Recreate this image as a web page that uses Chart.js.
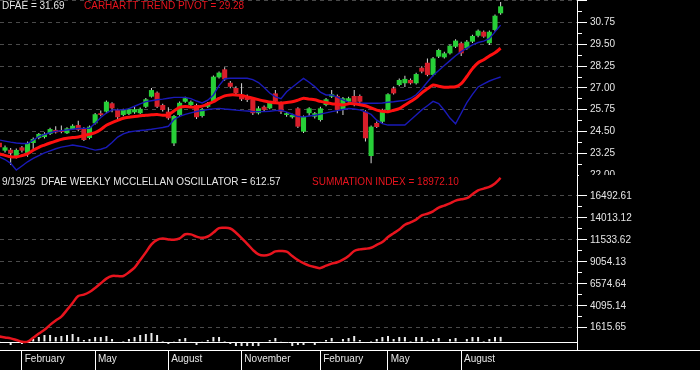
<!DOCTYPE html>
<html>
<head>
<meta charset="utf-8">
<script src="https://cdn.jsdelivr.net/npm/chart.js@4.4.1/dist/chart.umd.min.js"></script>
<style>
  html, body { margin: 0; padding: 0; background: #000; }
  #wrap { position: relative; width: 700px; height: 370px; overflow: hidden; background: #000; }
  canvas { position: absolute; left: 0; top: 0; }
  .hdr { position: absolute; font: 10px "Liberation Sans", Arial, sans-serif; line-height: 12px; white-space: pre; }
</style>
</head>
<body>
<div id="wrap">
  <canvas id="chart" width="700" height="370"></canvas>
  <div class="hdr" style="left:2px;top:0px;color:#e6e6e6">DFAE = 31.69</div>
  <div class="hdr" style="left:84px;top:0px;color:#e8141e">CARHARTT TREND PIVOT = 29.28</div>
  <div class="hdr" style="left:2px;top:176px;color:#e6e6e6">9/19/25  DFAE WEEKLY MCCLELLAN OSCILLATOR = 612.57</div>
  <div class="hdr" style="left:312px;top:176px;color:#e8141e">SUMMATION INDEX = 18972.10</div>
  <!-- bottom half of the clipped 22.00 label is hidden behind the lower panel header -->
  <div style="position:absolute;left:579px;top:175px;width:121px;height:11px;background:#000"></div>
  <div style="position:absolute;left:577px;top:350px;width:123px;height:1px;background:#fff"></div>
</div>
<script>
// weekly bars, friday dates
const weeks = [
  '2024-01-05','2024-01-12','2024-01-19','2024-01-26','2024-02-02','2024-02-09','2024-02-16','2024-02-23',
  '2024-03-01','2024-03-08','2024-03-15','2024-03-22','2024-03-29','2024-04-05','2024-04-12','2024-04-19',
  '2024-04-26','2024-05-03','2024-05-10','2024-05-17','2024-05-24','2024-05-31','2024-06-07','2024-06-14',
  '2024-06-21','2024-06-28','2024-07-05','2024-07-12','2024-07-19','2024-07-26','2024-08-02','2024-08-09',
  '2024-08-16','2024-08-23','2024-08-30','2024-09-06','2024-09-13','2024-09-20','2024-09-27','2024-10-04',
  '2024-10-11','2024-10-18','2024-10-25','2024-11-01','2024-11-08','2024-11-15','2024-11-22','2024-11-29',
  '2024-12-06','2024-12-13','2024-12-20','2024-12-27','2025-01-03','2025-01-10','2025-01-17','2025-01-24',
  '2025-01-31','2025-02-07','2025-02-14','2025-02-21','2025-02-28','2025-03-07','2025-03-14','2025-03-21',
  '2025-03-28','2025-04-04','2025-04-11','2025-04-18','2025-04-25','2025-05-02','2025-05-09','2025-05-16',
  '2025-05-23','2025-05-30','2025-06-06','2025-06-13','2025-06-20','2025-06-27','2025-07-04','2025-07-11',
  '2025-07-18','2025-07-25','2025-08-01','2025-08-08','2025-08-15','2025-08-22','2025-08-29','2025-09-05',
  '2025-09-12','2025-09-19'
];

const openP = [
  23.86,23.40,23.45,23.05,23.59,23.27,23.84,24.13,24.18,24.36,24.59,24.55,24.40,24.64,24.87,24.68,
  24.13,24.97,25.55,25.64,26.12,25.74,25.45,25.51,25.60,25.55,25.92,26.50,26.73,26.02,25.64,23.82,
  25.45,26.21,26.02,26.02,25.39,25.92,26.21,27.61,28.07,27.30,27.00,26.60,26.54,26.40,25.55,25.92,
  25.83,26.69,26.15,25.45,25.32,25.83,24.49,25.55,25.35,25.16,26.02,26.50,26.54,25.78,26.21,26.54,
  26.54,25.64,23.09,24.99,25.06,25.74,26.98,27.17,27.27,27.46,27.27,28.16,28.45,27.75,28.80,28.76,
  28.99,29.37,29.57,29.28,29.66,30.00,30.23,29.57,30.33,31.29
];
const highP = [
  23.98,23.70,23.55,23.52,23.66,23.92,24.15,24.42,24.45,24.72,24.80,24.85,24.75,24.92,25.12,24.75,
  24.85,25.56,25.70,26.28,26.18,25.80,25.80,25.85,25.92,25.88,26.42,27.00,26.80,26.10,25.90,25.45,
  26.22,26.50,26.28,26.10,25.85,26.20,27.72,27.95,28.19,27.40,27.10,27.27,26.62,26.48,25.95,26.00,
  26.25,26.88,26.22,25.62,25.52,25.90,25.42,25.90,25.62,25.92,26.42,26.88,26.62,26.48,26.50,26.88,
  26.62,25.72,24.85,25.08,25.80,26.70,27.08,27.55,27.70,27.55,27.88,28.25,28.70,28.78,29.25,29.08,
  29.50,29.80,29.65,29.75,30.05,30.36,30.30,30.30,31.22,31.94
];
const lowP = [
  23.50,23.30,22.58,22.95,23.30,23.05,23.45,24.05,24.10,24.30,24.38,24.40,24.35,24.58,24.52,23.95,
  24.05,24.90,25.38,25.55,25.60,25.20,25.38,25.45,25.52,25.50,25.85,26.45,25.85,25.65,25.18,23.66,
  25.38,26.15,25.95,25.22,25.30,25.85,26.15,27.55,27.42,26.98,26.62,26.25,26.20,25.45,25.48,25.62,
  25.78,26.10,25.50,25.35,25.25,24.70,24.42,25.40,25.25,25.08,25.95,26.42,25.55,25.45,26.12,25.95,
  26.12,23.92,22.67,24.70,24.95,25.65,26.62,27.10,27.05,27.20,27.20,27.85,27.68,27.68,28.72,28.70,
  28.92,29.30,28.84,29.20,29.58,29.92,29.88,29.47,30.25,31.20
];
const closeP = [
  23.59,23.59,23.25,23.44,23.40,23.84,24.07,24.36,24.36,24.64,24.45,24.47,24.68,24.83,24.59,24.01,
  24.78,25.49,25.45,26.21,25.83,25.32,25.74,25.78,25.78,25.80,26.35,26.88,25.92,25.74,25.26,25.39,
  26.15,26.41,26.21,25.32,25.78,26.12,27.65,27.88,27.50,27.07,26.71,26.35,26.31,25.55,25.83,25.74,
  26.15,26.21,25.64,25.55,25.45,24.78,25.35,25.83,25.55,25.83,26.35,26.64,25.74,26.41,26.41,26.02,
  26.21,24.11,24.78,24.76,25.74,26.64,26.69,27.46,27.52,27.27,27.80,27.94,27.75,28.70,29.18,28.99,
  29.43,29.72,28.99,29.66,29.99,30.29,29.95,30.23,31.15,31.69
];

const trendPivot = [
  23.21,23.13,23.05,23.04,23.12,23.22,23.42,23.59,23.72,23.84,23.95,24.05,24.11,24.15,24.19,24.26,
  24.34,24.44,24.62,24.86,25.01,25.14,25.26,25.32,25.36,25.40,25.44,25.46,25.48,25.43,25.46,25.68,
  25.88,25.94,25.90,25.90,25.96,26.08,26.21,26.40,26.55,26.60,26.60,26.57,26.49,26.41,26.33,26.25,
  26.20,26.15,26.13,26.17,26.21,26.30,26.41,26.36,26.32,26.23,26.16,26.10,26.07,26.02,26.10,26.09,
  26.04,25.98,25.85,25.73,25.66,25.64,25.72,25.82,26.02,26.22,26.43,26.72,26.95,27.17,27.10,27.04,
  27.05,27.07,27.25,27.66,28.11,28.45,28.62,28.84,29.02,29.28
];
const upperBand = [
  24.01,23.95,23.89,23.84,23.81,23.81,24.01,24.20,24.33,24.43,24.51,24.55,24.59,24.63,24.67,24.68,
  24.68,24.98,25.30,25.56,25.74,25.74,25.74,25.81,25.95,26.09,26.22,26.27,26.32,26.36,26.41,26.46,
  26.46,26.46,26.39,26.25,26.14,26.30,26.60,27.14,27.53,27.56,27.56,27.56,27.56,27.48,27.31,27.03,
  26.71,26.49,26.38,26.78,27.04,27.30,27.55,27.33,27.08,26.76,26.60,26.60,26.48,26.32,26.19,26.16,
  26.12,26.12,26.12,26.12,26.14,26.18,26.21,26.25,26.29,26.41,26.61,26.94,27.34,27.72,28.00,28.29,
  28.57,28.85,29.09,29.29,29.48,29.61,29.69,29.83,30.22,30.61
];
const lowerBand = [
  23.03,22.89,22.67,22.29,22.52,22.76,22.95,23.12,23.27,23.39,23.51,23.60,23.66,23.72,23.67,23.62,
  23.52,23.43,23.48,23.59,23.87,24.18,24.36,24.47,24.52,24.56,24.59,24.63,24.68,24.73,24.80,25.19,
  25.37,25.48,25.57,25.65,25.71,25.76,25.80,25.83,25.79,25.76,25.73,25.70,25.68,25.65,25.64,25.64,
  25.66,25.70,25.72,25.61,25.49,25.36,25.34,25.39,25.43,25.50,25.57,25.64,25.70,25.76,25.82,25.79,
  25.74,25.63,25.48,25.15,24.95,24.87,24.87,24.87,24.87,25.16,25.45,25.74,25.98,26.23,26.10,25.72,
  25.27,24.94,25.55,26.16,26.63,27.06,27.23,27.40,27.52,27.63
];

const summation = [
  622,509,407,227,35,35,475,950,1379,1932,2430,2870,3627,4406,5197,5344,
  5649,6112,6631,7162,7456,7456,7456,7885,8405,9252,10122,11037,11545,11681,11590,11545,
  11703,12166,12155,11906,11771,11918,12358,12867,12901,12822,12347,11726,11093,10416,9896,9772,
  9896,10235,10269,10201,9715,9263,8902,8631,8473,8348,8620,8857,9004,9297,9727,10280,
  10461,10528,10642,10969,11285,11861,12291,12709,13240,13511,13827,14301,14493,14765,15183,15408,
  15657,15973,16131,16244,16685,17137,17329,17521,17916,18537
];
const oscillator = [
  40,60,-360,-100,-240,100,360,600,840,840,600,720,840,960,600,240,
  360,600,600,720,360,-120,120,360,600,840,960,1080,840,120,-240,30,
  360,480,50,-360,40,240,600,600,120,-240,-480,-480,-480,-480,-480,-120,
  240,480,40,-120,-480,-360,-360,-60,-360,50,240,480,60,360,480,720,
  240,-120,120,360,600,720,360,600,600,120,600,600,120,360,480,60,
  360,480,60,360,600,600,120,360,600,612.57
];

const priceTicks = [22.00, 23.25, 24.50, 25.75, 27.00, 28.25, 29.50, 30.75, 32.00];
const sumTicks = [1615.65, 4095.14, 6574.64, 9054.13, 11533.62, 14013.12, 16492.61];
const monthNames = ['January','February','March','April','May','June','July','August',
  'September','October','November','December'];

const GREEN = '#27cf38';
const RED = '#d81f2b';
const FONT = { family: '"Liberation Sans", Arial, sans-serif', size: 10 };

// month separators: first week of Feb / May / Aug / Nov
const monthTicks = [];
weeks.forEach((d, i) => {
  const m = +d.slice(5, 7) - 1;
  const prev = i > 0 ? +weeks[i - 1].slice(5, 7) - 1 : -1;
  if (m !== prev && m % 3 === 1) monthTicks.push({ value: i, label: monthNames[m] });
});

const mids = arr => arr.slice(1).map((v, i) => (v + arr[i]) / 2);
const priceMinor = mids(priceTicks);
const sumMinor = mids(sumTicks);

const xy = arr => arr.map((v, i) => ({ x: i, y: v }));
const bodies = weeks.map((d, i) => ({ x: i, y: [openP[i], closeP[i]] }));
const wicks = weeks.map((d, i) => ({ x: i, y: [lowP[i], highP[i]] }));
const bodyColors = weeks.map((d, i) => closeP[i] >= openP[i] ? GREEN : RED);

// every y axis sits on the same line at the right edge of the plot
const flat = s => { s.width = 0; s.paddingTop = 0; s.paddingBottom = 0; };

// give the stacked right axes room again so their labels are not clipped
const widenAxes = {
  id: 'widenAxes',
  afterLayout(chart) {
    Object.values(chart.scales).forEach(s => {
      if (s.axis === 'y') { s.right = chart.width; s.width = s.right - s.left; }
    });
  }
};

const priceRange = { min: 11.95, max: 32.053 };
const sumRange = { min: -903.3, max: 38632.8 };

new Chart(document.getElementById('chart'), {
  type: 'bar',
  plugins: [widenAxes],
  data: {
    datasets: [
      { type: 'line', data: xy(summation), yAxisID: 'ys', borderColor: '#e8141e', borderWidth: 2.5,
        pointRadius: 0, tension: 0.35, order: 1 },
      { type: 'bar', data: xy(oscillator), yAxisID: 'yo', backgroundColor: '#ececec',
        barPercentage: 0.36, categoryPercentage: 1, maxBarThickness: 2, grouped: false, order: 2 },
      { type: 'line', data: xy(trendPivot), yAxisID: 'yp', borderColor: '#ff1010', borderWidth: 3,
        pointRadius: 0, tension: 0.3, order: 3 },
      { type: 'line', data: xy(upperBand), yAxisID: 'yp', borderColor: '#1a1ab8', borderWidth: 1.4,
        pointRadius: 0, tension: 0, order: 4 },
      { type: 'line', data: xy(lowerBand), yAxisID: 'yp', borderColor: '#1a1ab8', borderWidth: 1.4,
        pointRadius: 0, tension: 0, order: 4 },
      { type: 'bar', data: bodies, yAxisID: 'yp', backgroundColor: bodyColors, borderWidth: 0,
        barPercentage: 0.9, categoryPercentage: 1, minBarLength: 1.5, grouped: false, order: 5 },
      { type: 'bar', data: wicks, yAxisID: 'yp', backgroundColor: '#d8d8d8', borderWidth: 0,
        barPercentage: 0.2, categoryPercentage: 1, maxBarThickness: 1, grouped: false, order: 6 }
    ]
  },
  options: {
    responsive: false,
    devicePixelRatio: 1,
    animation: false,
    events: [],
    layout: { padding: { left: 0, right: 123, top: 0, bottom: 0 } },
    plugins: { legend: { display: false }, tooltip: { enabled: false } },
    scales: {
      x: {
        type: 'linear', position: 'bottom', min: 0.1065, max: 102.56, offset: false,
        afterFit: s => { s.height = 20; s.paddingLeft = 0; s.paddingRight = 0; },
        afterBuildTicks: s => { s.ticks = monthTicks.map(t => ({ value: t.value })); },
        ticks: {
          autoSkip: false, maxRotation: 0, align: 'start', padding: -17, color: '#e6e6e6', font: FONT,
          callback: v => ' ' + (monthTicks.find(t => t.value === v) || { label: '' }).label
        },
        grid: { offset: false, drawOnChartArea: false, drawTicks: true, tickLength: 20, tickColor: '#ffffff' },
        border: { display: true, color: '#ffffff' }
      },
      yp: {
        type: 'linear', position: 'right', ...priceRange,
        afterFit: flat,
        afterBuildTicks: s => { s.ticks = priceTicks.map(v => ({ value: v })); },
        ticks: { autoSkip: false, padding: 3, color: '#e6e6e6', font: FONT,
          callback: v => v >= 32 ? '' : v.toFixed(2) },
        grid: { color: c => c.tick && c.tick.value > 22.5 ? '#4a4a4a' : 'rgba(0,0,0,0)',
          drawTicks: true, tickLength: 10, tickColor: '#ffffff' },
        border: { display: true, color: '#ffffff', dash: [4, 4] }
      },
      ypm: {
        type: 'linear', position: 'right', ...priceRange,
        afterFit: flat,
        afterBuildTicks: s => { s.ticks = priceMinor.map(v => ({ value: v })); },
        ticks: { display: false },
        grid: { drawOnChartArea: false, drawTicks: true, tickLength: 5, tickColor: '#ffffff' },
        border: { display: false }
      },
      ys: {
        type: 'linear', position: 'right', ...sumRange,
        afterFit: flat,
        afterBuildTicks: s => { s.ticks = sumTicks.map(v => ({ value: v })); },
        ticks: { autoSkip: false, padding: 3, color: '#e6e6e6', font: FONT, callback: v => v.toFixed(2) },
        grid: { color: '#4a4a4a', drawTicks: true, tickLength: 10, tickColor: '#ffffff' },
        border: { display: false, dash: [4, 4] }
      },
      ysm: {
        type: 'linear', position: 'right', ...sumRange,
        afterFit: flat,
        afterBuildTicks: s => { s.ticks = sumMinor.map(v => ({ value: v })); },
        ticks: { display: false },
        grid: { drawOnChartArea: false, drawTicks: true, tickLength: 5, tickColor: '#ffffff' },
        border: { display: false }
      },
      yo: {
        type: 'linear', position: 'right', min: -960, max: 41040,
        afterFit: flat,
        afterBuildTicks: s => { s.ticks = [{ value: 0 }]; },
        ticks: { display: false },
        grid: { color: '#ffffff', drawTicks: false },
        border: { display: false }
      }
    }
  }
});
</script>
</body>
</html>
